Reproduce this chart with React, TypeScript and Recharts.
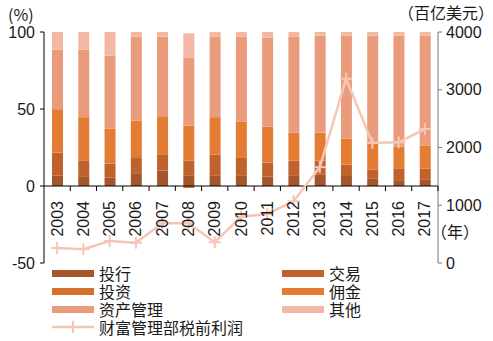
import React from 'react';
import { ComposedChart, Bar, Line, XAxis, YAxis, ReferenceLine } from 'recharts';

const years = ['2003', '2004', '2005', '2006', '2007', '2008', '2009', '2010', '2011', '2012', '2013', '2014', '2015', '2016', '2017'];
const ibd = [6.7, 5.9, 5.4, 8.3, 10.1, 6.6, 6.6, 7.0, 6.1, 7.0, 7.3, 6.5, 5.0, 3.8, 4.4];
const trading = [15.0, 10.8, 9.1, 10.0, 10.5, 10.0, 13.9, 11.2, 9.1, 9.4, 9.2, 7.4, 5.8, 7.3, 6.9];
const investing = [0, 0, 0, 1.2, 0, -1.3, 0, 0, 0, 0, 0, 0, 0, 0, 0];
const commission = [28.2, 28.0, 22.8, 23.0, 24.7, 22.6, 24.2, 23.6, 23.4, 18.3, 18.2, 16.9, 17.0, 14.5, 14.9];
const assetMgmt = [38.6, 43.8, 47.3, 54.6, 51.8, 44.3, 52.4, 55.3, 57.9, 62.4, 63.1, 67.0, 70.0, 72.2, 71.6];
const other = [11.5, 11.5, 15.4, 2.9, 2.9, 15.6, 2.9, 2.9, 3.5, 2.9, 2.2, 2.2, 2.2, 2.2, 2.2];
const wmProfit = [260, 240, 380, 350, 690, 690, 360, 800, 850, 1070, 1660, 3190, 2080, 2090, 2320];

const leftTicks = [-50, 0, 50, 100];
const rightTicks = [0, 1000, 2000, 3000, 4000];

const barNames = ['投行', '交易', '投资', '佣金', '资产管理', '其他'];
const barSeries = [ibd, trading, investing, commission, assetMgmt, other];
const lineName = '财富管理部税前利润';

const barColors: Record<string, string> = {
  投行: '#A5552A',
  交易: '#C0622C',
  投资: '#D5712F',
  佣金: '#E57C34',
  资产管理: '#EA9B7B',
  其他: '#F2B8A4',
};
const lineColor = '#F5C6B5';

const data = years.map((y, i) => {
  const row: Record<string, any> = { year: y, [lineName]: wmProfit[i] };
  barNames.forEach((n, k) => {
    row[n] = barSeries[k][i];
  });
  return row;
});

const W = 493;
const H = 341;
const X_H = 30;
const M = { top: 32, right: 0, bottom: 78 - X_H, left: 0 };
const LEFT_W = 44;
const RIGHT_W = 55;
const PLOT_H = H - M.top - M.bottom - X_H;
const PLOT_W = W - LEFT_W - RIGHT_W;
const ZERO_Y = M.top + PLOT_H * (100 / 150);
const BAND = PLOT_W / years.length;
const FONT = '"Liberation Sans", Arial, "Noto Sans CJK SC", sans-serif';
const CJK = '"Noto Sans CJK SC", "Liberation Sans", sans-serif';

const XTick = (props: any) => {
  const { x, payload } = props;
  const ay = ZERO_Y + 15;
  return (
    <g>
      <line x1={x + BAND / 2} x2={x + BAND / 2} y1={ZERO_Y} y2={ZERO_Y + 5} stroke="#000" strokeWidth={1} />
      <text
        x={x}
        y={ay}
        transform={`rotate(-90 ${x} ${ay})`}
        textAnchor="end"
        dominantBaseline="central"
        fontSize={16}
        fill="#1a1a1a"
        fontFamily={FONT}
      >
        {payload.value}
      </text>
    </g>
  );
};

const PlusDot = (props: any) => {
  const { cx, cy, index } = props;
  if (cx == null || cy == null) return null;
  return (
    <g key={`pd-${index}`}>
      <line x1={cx - 6} x2={cx + 6} y1={cy} y2={cy} stroke={lineColor} strokeWidth={2} />
      <line x1={cx} x2={cx} y1={cy - 6} y2={cy + 6} stroke={lineColor} strokeWidth={2} />
    </g>
  );
};

const legendCols = [52, 282];
const legendRows = [273, 291, 309, 327];

const legendItemStyle = (left: number, cy: number): React.CSSProperties => ({
  position: 'absolute',
  left,
  top: cy - 8,
  height: 16,
  lineHeight: '16px',
  display: 'flex',
  alignItems: 'center',
  fontSize: 16,
  color: '#1a1a1a',
  whiteSpace: 'nowrap',
  fontFamily: CJK,
});

export default function App() {
  const tickStyle = { fontSize: 16, fill: '#1a1a1a', fontFamily: FONT };
  return (
    <div style={{ position: 'absolute', left: 0, top: 0, width: W, height: H, fontFamily: FONT, background: '#fff' }}>
      <ComposedChart width={W} height={H} data={data} margin={M} stackOffset="sign" barSize={11}>
        <XAxis dataKey="year" axisLine={false} tickLine={false} height={X_H} interval={0} tick={<XTick />} />
        <YAxis
          yAxisId="left"
          domain={[-50, 100]}
          ticks={leftTicks}
          width={LEFT_W}
          tickSize={4}
          tickMargin={5}
          axisLine={{ stroke: '#000' }}
          tickLine={{ stroke: '#000' }}
          tick={tickStyle}
          interval={0}
        />
        <YAxis
          yAxisId="right"
          orientation="right"
          domain={[0, 4000]}
          ticks={rightTicks}
          width={RIGHT_W}
          tickSize={4}
          tickMargin={4}
          axisLine={{ stroke: '#777' }}
          tickLine={{ stroke: '#777' }}
          tick={tickStyle}
          interval={0}
        />
        {barNames.map((n) => (
          <Bar key={n} dataKey={n} stackId="a" yAxisId="left" fill={barColors[n]} isAnimationActive={false} />
        ))}
        <ReferenceLine yAxisId="left" y={0} stroke="#000" strokeWidth={1} />
        <Line
          yAxisId="right"
          dataKey={lineName}
          stroke={lineColor}
          strokeWidth={2.5}
          dot={<PlusDot />}
          activeDot={false}
          isAnimationActive={false}
        />
      </ComposedChart>

      <div style={{ position: 'absolute', left: 8, top: 4, fontSize: 16, lineHeight: '20px', color: '#1a1a1a', fontFamily: CJK }}>(%)</div>
      <div style={{ position: 'absolute', left: 398, top: 2, fontSize: 16, lineHeight: '20px', color: '#1a1a1a', fontFamily: CJK }}>（百亿美元）</div>
      <div style={{ position: 'absolute', left: 431, top: 221, fontSize: 16, lineHeight: '20px', color: '#1a1a1a', fontFamily: CJK }}>（年）</div>

      {barNames.map((n, k) => {
        const col = k % 2;
        const row = Math.floor(k / 2);
        return (
          <div key={n} style={legendItemStyle(legendCols[col], legendRows[row])}>
            <span style={{ display: 'inline-block', width: 42, height: 7, background: barColors[n], marginRight: 5 }} />
            <span style={{ lineHeight: '16px' }}>{n}</span>
          </div>
        );
      })}
      <div style={legendItemStyle(legendCols[0], legendRows[3])}>
        <svg width={42} height={14} style={{ marginRight: 5 }}>
          <line x1={0} x2={42} y1={7} y2={7} stroke={lineColor} strokeWidth={2.5} />
          <line x1={21} x2={21} y1={1} y2={13} stroke={lineColor} strokeWidth={2} />
        </svg>
        <span style={{ lineHeight: '16px' }}>{lineName}</span>
      </div>
    </div>
  );
}
